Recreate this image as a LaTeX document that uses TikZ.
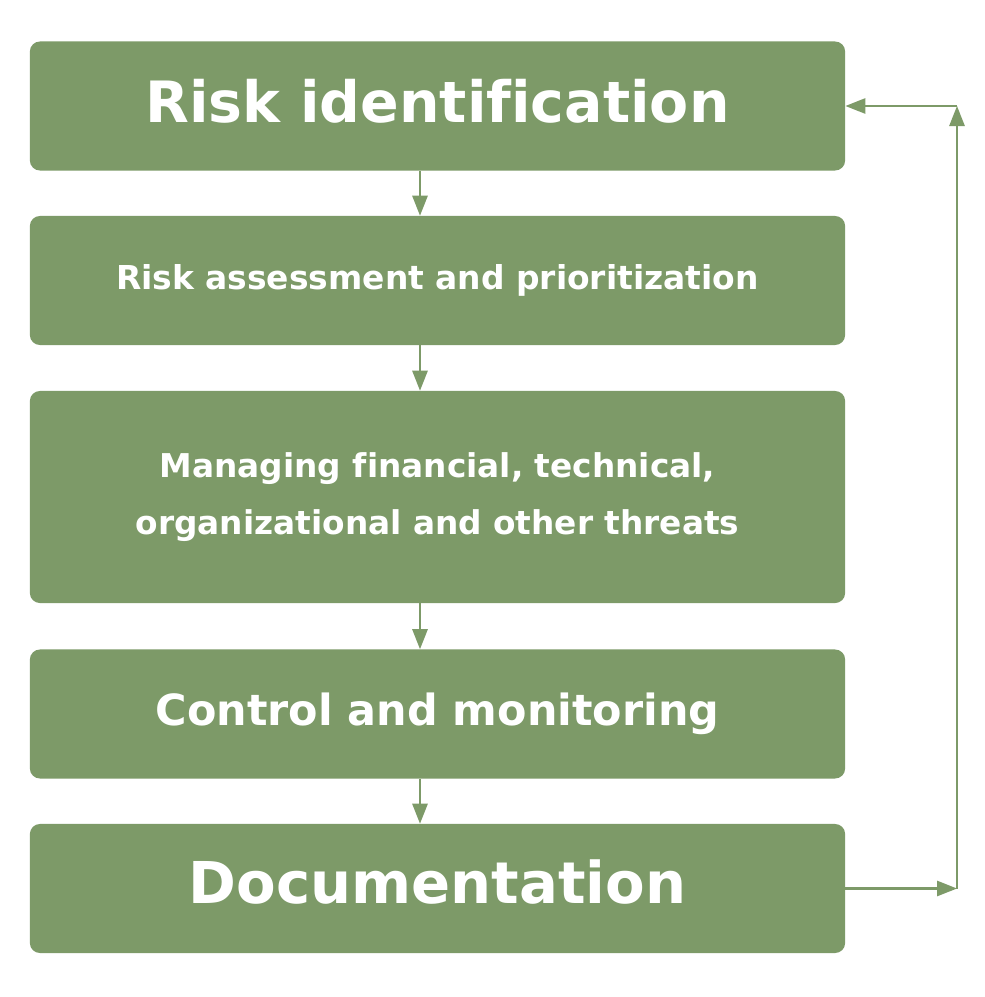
\documentclass[tikz,border=0pt]{standalone}
\usepackage{fontspec}
\setmainfont[Ligatures=NoCommon]{DejaVu Sans}
\usetikzlibrary{arrows.meta}
\definecolor{leaf}{RGB}{125,154,104}
\tikzset{
  stagebox/.style={fill=leaf,rounded corners=0.25cm,text=white,font=\bfseries,
    minimum width=20.375cm,minimum height=3.225cm,align=center,inner sep=0pt},
  flow/.style={draw=leaf,line width=1.5pt,-{Triangle[length=0.5cm,width=0.38cm]}}
}
\begin{document}
\begin{tikzpicture}[x=0.025cm,y=-0.025cm]
	    \useasboundingbox[fill=white](0,0) rectangle (984,997);
	    \node[stagebox,text depth=0.25cm,font=\bfseries\fontsize{40.5}{48}\selectfont](ident) at (437.5,106){Risk identification};
	    \node[stagebox,font=\bfseries\fontsize{23.4}{30}\selectfont](assess) at (437.5,280.5){Risk assessment and prioritization};
	    \node[stagebox,minimum height=5.3cm,font=\bfseries\fontsize{23.3}{41}\selectfont](manage) at (437.5,497){Managing financial, technical,\\organizational and other threats};
	    \node[stagebox,font=\bfseries\fontsize{30.5}{38}\selectfont](control) at (437.5,714){Control and monitoring};
	    \node[stagebox,text depth=0.35cm,font=\bfseries\fontsize{41}{48}\selectfont](doc) at (437.5,888.5){Documentation};
	    \coordinate(spine) at (420,0);
	    \coordinate(loop) at (957,0);
	    \draw[flow](spine |- ident.south)--(spine |- assess.north);
	    \draw[flow](spine |- assess.south)--(spine |- manage.north);
	    \draw[flow](spine |- manage.south)--(spine |- control.north);
	    \draw[flow](spine |- control.south)--(spine |- doc.north);
	    \draw[flow](doc.east)--(loop |- doc.east);
	    \draw[flow](loop |- doc.east)--(loop |- ident.east);
	    \draw[flow](loop |- ident.east)--(ident.east);
	\end{tikzpicture}
\end{document}
